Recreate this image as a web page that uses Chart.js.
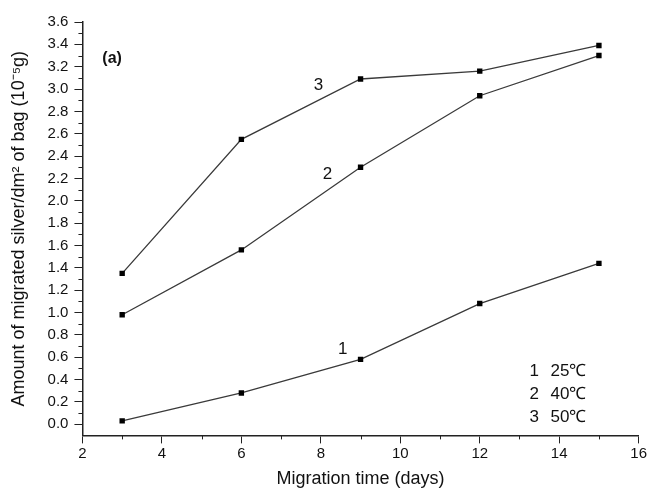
<!DOCTYPE html>
<html>
<head>
<meta charset="utf-8">
<script src="https://cdn.jsdelivr.net/npm/chart.js@4"></script>
<style>
    html, body { margin: 0; padding: 0; background: #fff; }
    #wrap { width: 648px; height: 491px; }
</style>
</head>
<body>
<div id="wrap"><canvas id="chartCanvas" width="648" height="491"></canvas></div>
<script>
const days = [3, 6, 9, 12, 15];
const silver25 = [0.03, 0.28, 0.58, 1.08, 1.44];
const silver40 = [0.98, 1.56, 2.30, 2.94, 3.30];
const silver50 = [1.35, 2.55, 3.09, 3.16, 3.39];
const xTicks = [2, 4, 6, 8, 10, 12, 14, 16];
const yTicks = [0.0, 0.2, 0.4, 0.6, 0.8, 1.0, 1.2, 1.4, 1.6, 1.8, 2.0, 2.2, 2.4, 2.6, 2.8, 3.0, 3.2, 3.4, 3.6];
const legendNums = ['1', '2', '3'];
const legendTemps = ['25\u2103', '40\u2103', '50\u2103'];

function toPoints(values) {
    return days.map((d, i) => ({ x: d, y: values[i] }));
}

function seriesStyle(label, values) {
    return {
        label: label,
        data: toPoints(values),
        borderColor: '#3a3a3a',
        borderWidth: 1.3,
        pointStyle: 'rect',
        pointRadius: 3.8,
        pointBackgroundColor: '#000',
        pointBorderColor: '#000',
        pointBorderWidth: 0,
        tension: 0
    };
}

// minor ticks and the text written on the plot
const extras = {
    id: 'extras',
    afterDraw(chart) {
        const ctx = chart.ctx;
        const xs = chart.scales.x;
        const ys = chart.scales.y;
        ctx.save();
        ctx.strokeStyle = '#222';
        ctx.lineWidth = 1;
        for (let v = 3; v < 16; v += 2) {
            const px = Math.round(xs.getPixelForValue(v)) + 0.5;
            ctx.beginPath();
            ctx.moveTo(px, ys.bottom);
            ctx.lineTo(px, ys.bottom + 4);
            ctx.stroke();
        }
        for (let i = 0; i < yTicks.length - 1; i++) {
            const py = Math.round(ys.getPixelForValue(yTicks[i] + 0.1)) + 0.5;
            ctx.beginPath();
            ctx.moveTo(xs.left, py);
            ctx.lineTo(xs.left - 4, py);
            ctx.stroke();
        }

        ctx.fillStyle = '#111';
        ctx.textBaseline = 'middle';
        ctx.font = 'bold 16px "Liberation Sans", Arial, sans-serif';
        ctx.textAlign = 'left';
        ctx.fillText('(a)', xs.getPixelForValue(2.5), ys.getPixelForValue(3.27));

        ctx.font = '17px "Liberation Sans", Arial, sans-serif';
        ctx.textAlign = 'center';
        ctx.fillText('1', xs.getPixelForValue(8.55), ys.getPixelForValue(0.67));
        ctx.fillText('2', xs.getPixelForValue(8.17), ys.getPixelForValue(2.24));
        ctx.fillText('3', xs.getPixelForValue(7.94), ys.getPixelForValue(3.03));

        ctx.textAlign = 'left';
        const legendY = [0.47, 0.27, 0.06];
        legendNums.forEach((t, i) => {
            ctx.fillText(t, xs.getPixelForValue(13.25), ys.getPixelForValue(legendY[i]));
            ctx.fillText(legendTemps[i], xs.getPixelForValue(13.78), ys.getPixelForValue(legendY[i]));
        });
        ctx.restore();
    }
};

const font = { family: '"Liberation Sans", Arial, sans-serif', size: 15 };
const titleFont = { family: font.family, size: 18 };

new Chart(document.getElementById('chartCanvas').getContext('2d'), {
    type: 'line',
    data: {
        datasets: [
            seriesStyle('1', silver25),
            seriesStyle('2', silver40),
            seriesStyle('3', silver50)
        ]
    },
    options: {
        responsive: false,
        animation: false,
        layout: { padding: { top: 22, right: 6, left: 4, bottom: 1 } },
        plugins: {
            legend: { display: false },
            tooltip: { enabled: false }
        },
        scales: {
            x: {
                type: 'linear',
                min: 2,
                max: 16,
                afterBuildTicks: s => { s.ticks = xTicks.map(v => ({ value: v })); },
                ticks: { color: '#111', font: font, padding: 1, callback: v => String(v) },
                grid: { drawOnChartArea: false, tickLength: 8, color: '#222' },
                border: { color: '#222', width: 1.5 },
                title: { display: true, text: 'Migration time (days)', color: '#111', font: titleFont, padding: { top: 5, bottom: 0 } }
            },
            y: {
                type: 'linear',
                min: -0.1,
                max: 3.6,
                afterBuildTicks: s => { s.ticks = yTicks.map(v => ({ value: v })); },
                ticks: { color: '#111', font: font, padding: 6, callback: v => v.toFixed(1) },
                grid: { drawOnChartArea: false, tickLength: 8, color: '#222' },
                border: { color: '#222', width: 1.5 },
                title: { display: true, text: 'Amount of migrated silver/dm\u00b2 of bag (10\u207b\u2075g)', color: '#111', font: titleFont, padding: { bottom: 12 } }
            }
        }
    },
    plugins: [extras]
});
</script>
</body>
</html>
